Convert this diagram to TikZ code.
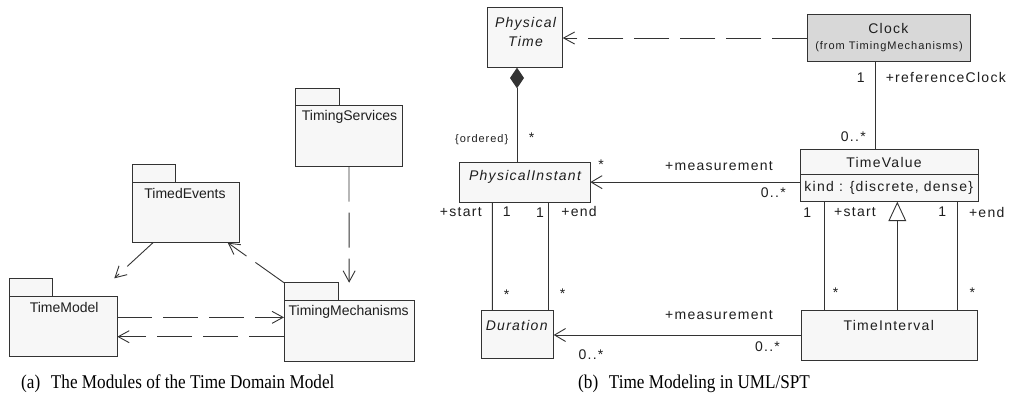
\documentclass[tikz,border=0pt]{standalone}
\usepackage{fontspec}
\setmainfont{Liberation Sans}
\newfontfamily\capfont[FakeStretch=0.88]{Liberation Serif}
\newfontfamily\umlfont[LetterSpace=9]{Liberation Sans}
\usetikzlibrary{arrows.meta,calc}

\definecolor{boxfill}{HTML}{F7F7F7}
\definecolor{clockfill}{HTML}{D8D8D8}
\definecolor{linec}{HTML}{333333}
\definecolor{textc}{HTML}{1E1E1E}

\begin{document}
\begin{tikzpicture}[x=1pt,y=-1pt,
  line/.style={draw=linec, line width=0.9pt},
  dep/.style={line, dash pattern=on 35pt off 11pt,
    -{Straight Barb[length=11pt,width=12pt]}},
  nav/.style={line, -{Straight Barb[length=11pt,width=13pt]}},
  pkg/.style={inner sep=0pt, outer sep=0pt, draw=none},
  pkgdraw/.style={line, fill=boxfill},
  pkgname/.style={text=textc, inner sep=0pt,
    font=\fontsize{14}{16}\selectfont},
  cls/.style={line, fill=boxfill, inner sep=0pt, outer sep=0pt},
  clsname/.style={text=textc, inner sep=0pt,
    font=\umlfont\fontsize{14}{16}\selectfont},
  abstractname/.style={clsname,
    font=\umlfont\fontsize{14}{18.3}\selectfont\itshape},
  role/.style={text=textc, inner sep=0pt,
    font=\umlfont\fontsize{14}{16}\selectfont},
  small/.style={text=textc, inner sep=0pt,
    font=\umlfont\fontsize{11}{13}\selectfont},
  caption/.style={text=black, inner sep=0pt,
    font=\capfont\fontsize{19.5}{23}\selectfont}]
\useasboundingbox (0,0) rectangle (1009,405);

% ---------- (a) package diagram ----------
\node[pkg, minimum width=107.4pt, minimum height=78.4pt] (ts) at (349,127.5) {};
\node[pkg, minimum width=106.6pt, minimum height=78.4pt] (te) at (186,203.5) {};
\node[pkg, minimum width=108pt, minimum height=77.7pt] (tmod) at (63.3,317.15) {};
\node[pkg, minimum width=130.3pt, minimum height=78.3pt] (tmech) at (349.15,321.85) {};

\foreach \p/\tw/\th in {ts/44/16.7, te/43/18, tmod/43/18, tmech/54.3/18}{
  \draw[pkgdraw] ($(\p.north west)+(0,\th)$) rectangle (\p.south east);
  \draw[pkgdraw] (\p.north west) rectangle ++(\tw,\th);
}

\node[pkgname] (ts-n) at (349.5,116.5) {TimingServices};
\node[pkgname] (te-n) at (185,193) {TimedEvents};
\node[pkgname] (tmod-n) at (64.2,307.5) {TimeModel};
\node[pkgname] (tmech-n) at (348.7,311.5) {TimingMechanisms};

\coordinate (dm1) at ($(tmech.west)+(0,-4.5)$);
\coordinate (dm2) at ($(tmech.west)+(0,14.85)$);

\draw[dep] ([xshift=-33pt]te.south) -- ([xshift=-3pt]tmod.north east);
\draw[dep] (tmech.north west) -- ([xshift=-11.6pt]te.south east);
\draw[dep] (ts.south) -- (tmech.north);
\draw[dep] (dm1 -| tmod.east) -- (dm1);
\draw[dep] (dm2) -- (dm2 -| tmod.east);

% ---------- (b) class diagram ----------
\node[cls, minimum width=75pt, minimum height=60.4pt] (pt) at (525.2,37.5) {};
\node[cls, fill=clockfill, minimum width=163.4pt, minimum height=47.4pt] (clock) at (889,38) {};
\node[cls, minimum width=131.3pt, minimum height=39.7pt] (pi) at (524.65,182.15) {};
\node[cls, minimum width=178.3pt, minimum height=52.7pt] (tv) at (889.15,175.35) {};
\node[cls, minimum width=72.7pt, minimum height=48.3pt] (dur) at (517.35,334.15) {};
\node[cls, minimum width=176.3pt, minimum height=50pt] (ti) at (889.15,335) {};
\draw[line] ($(tv.west)+(0,-1)$) -- ($(tv.east)+(0,-1)$);

\node[abstractname, align=center] (pt-n) at (525.5,31.9) {Physical\\Time};
\node[clsname] (clock-n) at (888.3,28.3) {Clock};
\node[small] (clock-s) at (889,46.7) {(from TimingMechanisms)};
\node[abstractname] (pi-n) at (525,176.7) {PhysicalInstant};
\node[clsname] (tv-n) at (884,162.3) {TimeValue};
\node[clsname] (tv-a) at (888.7,187.7) {kind : \{discrete, dense\}};
\node[abstractname] (dur-n) at (516.7,325) {Duration};
\node[clsname] (ti-n) at (888.7,325) {TimeInterval};

% connectors
\draw[dep] (clock.west) -- (clock.west -| pt.east);
\draw[line, {Diamond[length=20.6pt,width=14pt]}-]
  ([xshift=-8.2pt]pt.south) -- ([xshift=-7.65pt]pi.north);
\draw[line] ([xshift=-13.3pt]clock.south) -- ([xshift=-13.45pt]tv.north);
\draw[nav] (pi.east -| tv.west) -- (pi.east);
\draw[line] ([xshift=-32.35pt]pi.south) -- ([xshift=-25.05pt]dur.north);
\draw[line] ([xshift=23.35pt]pi.south) -- ([xshift=30.65pt]dur.north);
\draw[line] ([xshift=-64.85pt]tv.south) -- ([xshift=-64.85pt]ti.north);
\draw[line] ([xshift=68.15pt]tv.south) -- ([xshift=68.15pt]ti.north);
\draw[line, -{Triangle[open,length=19.3pt,width=17.7pt]}]
  ([xshift=8.15pt]ti.north) -- ([xshift=8.15pt]tv.south);
\draw[nav] (ti.west) -- (ti.west -| dur.east);

% association end labels
\node[small] (l-ord) at (481.7,140) {\{ordered\}};
\node[role] (l-s1) at (531.7,137.7) {*};
\node[role] (l-s2) at (601,164.3) {*};
\node[role] (l-m1) at (719,165.7) {+measurement};
\node[role] (l-z1) at (773.3,192.7) {0..*};
\node[role] (l-st1) at (460.8,211.7) {+start};
\node[role] (l-o1) at (506.7,212) {1};
\node[role] (l-o2) at (540,213) {1};
\node[role] (l-e1) at (579,211) {+end};
\node[role] (l-s3) at (506.7,294.3) {*};
\node[role] (l-s4) at (562.7,294) {*};
\node[role] (l-m2) at (719,315) {+measurement};
\node[role] (l-z2) at (591,354.3) {0..*};
\node[role] (l-z3) at (767.5,346.7) {0..*};
\node[role] (l-o3) at (860.7,77.7) {1};
\node[role] (l-rc) at (945.8,77.7) {+referenceClock};
\node[role] (l-z4) at (853.3,136.7) {0..*};
\node[role] (l-o4) at (807.3,212.3) {1};
\node[role] (l-st2) at (855,212) {+start};
\node[role] (l-o5) at (942.3,212) {1};
\node[role] (l-e2) at (986.7,212) {+end};
\node[role] (l-s5) at (835.7,292.7) {*};
\node[role] (l-s6) at (972.3,292.7) {*};

% captions
\node[caption, anchor=west] (cap-a) at (21,384) {(a)\hspace{0.55em}The Modules of the Time Domain Model};
\node[caption, anchor=west] (cap-b) at (578,384) {(b)\hspace{0.55em}Time Modeling in UML/SPT};
\end{tikzpicture}
\end{document}
